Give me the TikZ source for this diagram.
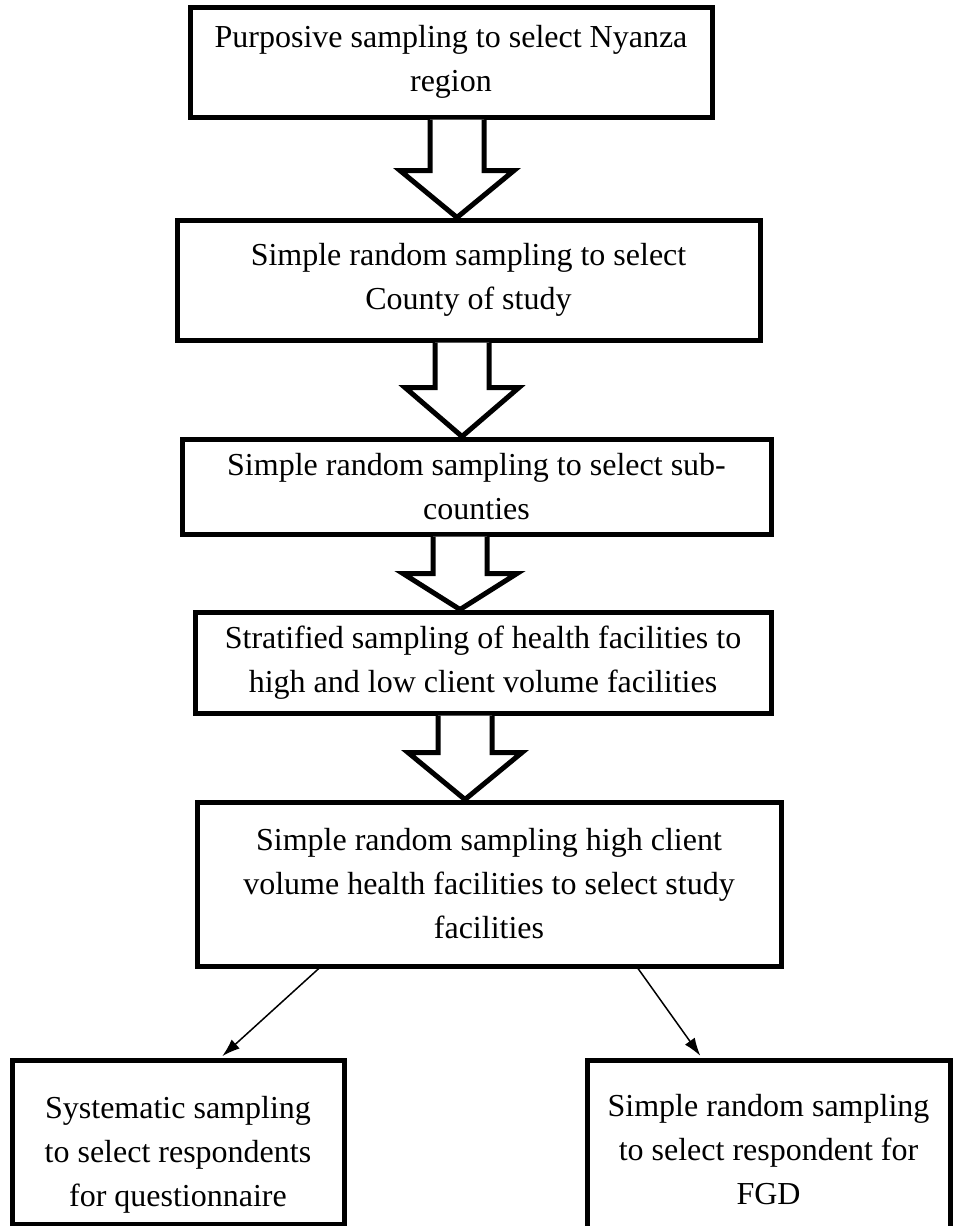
\documentclass[tikz,border=0pt]{standalone}
\usepackage{fontspec}
\setmainfont{Liberation Serif}
\usetikzlibrary{calc,arrows.meta}
\tikzset{
  box/.style={draw, line width=5pt, rectangle, align=center, inner sep=0pt,
    font=\fontsize{32}{44}\selectfont, fill=white},
  blockarr/.style={draw, line width=5pt, fill=white, line join=miter},
  thinarr/.style={line width=1.5pt, -{Latex[length=18pt,width=12pt]}, shorten >=2pt},
}
% #1 top node, #2 bottom node, #3 x offset, #4 shoulder drop
\newcommand{\blockarrow}[4]{%
  \draw[blockarr] let \p1=(#1.south), \p2=(#2.north) in
    (\x1+#3-27pt,\y1) -- (\x1+#3-27pt,\y1-#4) -- (\x1+#3-57pt,\y1-#4)
    -- (\x1+#3,\y2) -- (\x1+#3+57pt,\y1-#4) -- (\x1+#3+27pt,\y1-#4)
    -- (\x1+#3+27pt,\y1);
}
\begin{document}
\begin{tikzpicture}[x=1pt,y=1pt]
\useasboundingbox (0,0) rectangle (954,-1226);
\node[box, minimum width=522pt, minimum height=110pt] (b1) at (451,-62)
  {Purposive sampling to select Nyanza\\region};
\node[box, minimum width=583pt, minimum height=120pt] (b2) at (468.5,-280)
  {Simple random sampling to select\\County of study};
\node[box, minimum width=589pt, minimum height=95pt] (b3) at (476.5,-486.5)
  {Simple random sampling to select sub-\\counties};
\node[box, minimum width=576pt, minimum height=101pt] (b4) at (483,-662.5)
  {Stratified sampling of health facilities to\\high and low client volume facilities};
\node[box, minimum width=584pt, minimum height=164pt] (b5) at (489,-884)
  {Simple random sampling high client\\volume health facilities to select study\\facilities};
\node[box, minimum width=332pt, minimum height=164pt] (b6) at (178,-1142)
  {\rule{0pt}{48pt}Systematic sampling\\to select respondents\\for questionnaire};
\node[box, minimum width=363pt, minimum height=180pt] (b7) at (768.5,-1150)
  {Simple random sampling\\to select respondent for\\FGD};
\blockarrow{b1}{b2}{6pt}{51pt}
\blockarrow{b2}{b3}{-6.5pt}{45pt}
\blockarrow{b3}{b4}{-16.5pt}{37pt}
\blockarrow{b4}{b5}{-18pt}{37pt}
\draw[thinarr] ($(b5.south west)!0.211!(b5.south east)$) -- ($(b6.north west)!0.627!(b6.north east)$);
\draw[thinarr] ($(b5.south west)!0.753!(b5.south east)$) -- ($(b7.north west)!0.318!(b7.north east)$);
\end{tikzpicture}
\end{document}
